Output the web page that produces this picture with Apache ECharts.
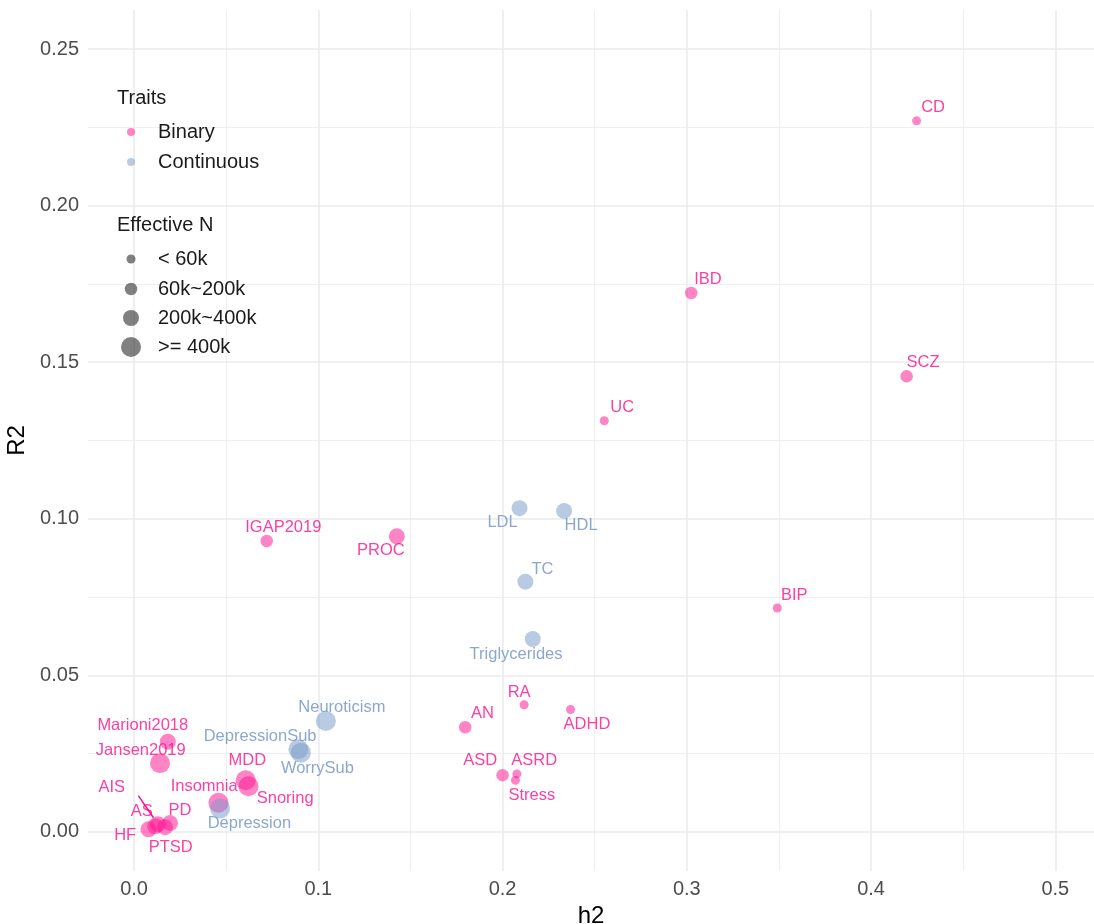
<!DOCTYPE html>
<html>
<head>
    <meta charset="utf-8" />
    <title>h2 vs R2</title>
    <script src="https://cdn.jsdelivr.net/npm/echarts@6/dist/echarts.min.js"></script>
    <style>
        html, body { margin: 0; padding: 0; background: #ffffff; }
    </style>
</head>
<body>
<div id="main" style="width: 1094px;height:924px;"></div>

<script type="text/javascript">
    // binary traits
    var binaryNames = ['CD', 'IBD', 'SCZ', 'UC', 'BIP', 'IGAP2019', 'PROC', 'RA', 'ADHD', 'AN', 'ASD', 'ASRD', 'Stress',
        'Marioni2018', 'Jansen2019', 'MDD', 'Snoring', 'Insomnia', 'AIS', 'AS', 'PD', 'PTSD', 'HF'];
    var binaryH2 = [0.4247, 0.3024, 0.4193, 0.2552, 0.3491, 0.0720, 0.1426, 0.2117, 0.2369, 0.1797, 0.2000, 0.2078, 0.2070,
        0.0183, 0.0141, 0.0606, 0.0621, 0.0458, 0.0130, 0.0114, 0.0195, 0.0168, 0.0078];
    var binaryR2 = [0.2271, 0.1721, 0.1455, 0.1313, 0.0715, 0.0929, 0.0944, 0.0406, 0.0391, 0.0334, 0.0181, 0.0185, 0.0165,
        0.0288, 0.0219, 0.0165, 0.0146, 0.0093, 0.0024, 0.0018, 0.0028, 0.0015, 0.0008];
    var binaryN = [0, 1, 1, 0, 0, 1, 2, 0, 0, 1, 1, 0, 0, 2, 3, 3, 3, 3, 2, 2, 2, 2, 2];

    // continuous traits
    var contNames = ['LDL', 'HDL', 'TC', 'Triglycerides', 'Neuroticism', 'DepressionSub', 'WorrySub', 'Depression'];
    var contH2 = [0.2092, 0.2334, 0.2124, 0.2164, 0.1041, 0.0892, 0.0905, 0.0467];
    var contR2 = [0.1034, 0.1025, 0.0799, 0.0616, 0.0354, 0.0264, 0.0253, 0.0075];
    var contN = [2, 2, 2, 2, 3, 3, 3, 3];

    // effective N groups
    var nGroups = ['< 60k', '60k~200k', '200k~400k', '>= 400k'];

    // axis ticks
    var xTicks = [0, 0.1, 0.2, 0.3, 0.4, 0.5];
    var xMinor = [0.05, 0.15, 0.25, 0.35, 0.45];
    var yTicks = [0, 0.05, 0.1, 0.15, 0.2, 0.25];
    var yMinor = [0.025, 0.075, 0.125, 0.175, 0.225];

    // styling
    var groupSize = [9, 12.5, 16, 20];
    var pink = '#FA0F8C', pinkFill = 'rgba(255,20,147,0.66)';
    var blue = '#6F91C2', blueFill = 'rgba(122,156,200,0.66)';
    var gridCol = '#EBEBEB';
    var font = 'Liberation Sans, Arial, sans-serif';

    // label placement (px from point), like ggrepel put them
    var labelOffset = {
        CD: [16.5, -13.4], IBD: [16.7, -13.3], SCZ: [16.4, -13.4], UC: [18, -13], BIP: [17, -13],
        IGAP2019: [16.6, -13.4], PROC: [-16, 14.3], RA: [-5, -12.4], ADHD: [16.4, 14.7], AN: [17.3, -14],
        ASD: [-22.3, -14.3], ASRD: [17.3, -13.7], Stress: [16.4, 15], Marioni2018: [-25, -16],
        Jansen2019: [-19.3, -12.6], MDD: [1.6, -19.3], Snoring: [36.7, 12.3], Insomnia: [-14.3, -16.7],
        AIS: [-46.3, -37.3], AS: [-13.3, -14.3], PD: [10, -12.3], PTSD: [5.7, 20.7], HF: [-23.3, 6.4],
        LDL: [-17, 14.4], HDL: [17, 15], TC: [17, -12.7], Triglycerides: [-16.7, 15], Neuroticism: [16, -13.7],
        DepressionSub: [-38.3, -13], WorrySub: [16.6, 15.6], Depression: [29.3, 15]
    };

    function buildData(names, h2, r2, grp, col) {
        return names.map(function (nm, i) {
            var item = {
                name: nm,
                value: [h2[i], r2[i]],
                symbolSize: groupSize[grp[i]],
                label: { offset: labelOffset[nm] || [0, 0] }
            };
            if (nm === 'AIS') {
                item.labelLine = { show: true, lineStyle: { color: col, width: 1.5 } };
            }
            return item;
        });
    }

    function traitSeries(name, data, col, fill) {
        return {
            name: name,
            type: 'scatter',
            xAxisIndex: 0,
            yAxisIndex: 0,
            data: data,
            itemStyle: { color: fill },
            label: {
                show: true,
                position: 'inside',
                formatter: '{b}',
                color: col,
                fontSize: 16.5,
                fontFamily: font
            },
            labelLine: { show: false },
            emphasis: { scale: false }
        };
    }

    var myChart = echarts.init(document.getElementById('main'));

    var series = [
        traitSeries('Binary', buildData(binaryNames, binaryH2, binaryR2, binaryN, pink), pink, pinkFill),
        traitSeries('Continuous', buildData(contNames, contH2, contR2, contN, blue), blue, blueFill)
    ];
    // empty series only for the size legend
    nGroups.forEach(function (g) {
        series.push({
            name: g, type: 'scatter', data: [],
            itemStyle: { color: 'rgba(35,35,35,0.72)' }
        });
    });

    // circle centred at x=131, text starting at x=158
    function legendText(d) {
        return { fontSize: 20, color: '#1a1a1a', fontFamily: font, lineHeight: 20,
            padding: [0, 0, 0, 27 - d / 2 - 5] };
    }
    var legends = [{
        orient: 'vertical', left: 131 - 4, top: 122, padding: 0, itemGap: 10,
        itemWidth: 8, itemHeight: 8, icon: 'circle',
        data: ['Binary', 'Continuous'], textStyle: legendText(8), selectedMode: false
    }];
    var sizeTops = [249, 279, 308, 337];
    nGroups.forEach(function (g, i) {
        var d = groupSize[i];
        legends.push({
            orient: 'vertical', left: 131 - d / 2, top: sizeTops[i], padding: 0,
            itemWidth: d, itemHeight: d, icon: 'circle',
            data: [g], textStyle: legendText(d), selectedMode: false
        });
    });

    var option = {
        backgroundColor: '#ffffff',
        animation: false,
        textStyle: { fontFamily: font },
        title: [
            { text: 'Traits', left: 117, top: 88, padding: 0,
                textStyle: { fontSize: 20, fontWeight: 'normal', color: '#1a1a1a', fontFamily: font, lineHeight: 20 } },
            { text: 'Effective N', left: 117, top: 215, padding: 0,
                textStyle: { fontSize: 20, fontWeight: 'normal', color: '#1a1a1a', fontFamily: font, lineHeight: 20 } }
        ],
        legend: legends,
        grid: { left: 88, right: 0, top: 10, bottom: 53, outerBoundsMode: 'none', containLabel: false },
        xAxis: [{
            type: 'value', min: -0.025, max: 0.521,
            name: 'h2', nameLocation: 'middle', nameGap: 30,
            nameTextStyle: { fontSize: 24, color: '#000000', fontFamily: font },
            axisLine: { show: false },
            axisTick: { show: false, customValues: xTicks },
            axisLabel: { customValues: xTicks, fontSize: 20, color: '#4D4D4D', margin: 8,
                formatter: function (v) { return v.toFixed(1); } },
            splitLine: { show: true, lineStyle: { color: gridCol, width: 1.6 } }
        }, {
            type: 'value', min: -0.025, max: 0.521, position: 'bottom',
            axisLine: { show: false },
            axisTick: { show: false, customValues: xMinor },
            axisLabel: { show: false },
            splitLine: { show: true, lineStyle: { color: gridCol, width: 0.8 } }
        }],
        yAxis: [{
            type: 'value', min: -0.0125, max: 0.2625,
            name: 'R2', nameLocation: 'middle', nameGap: 56, nameRotate: 90,
            nameTextStyle: { fontSize: 24, color: '#000000', fontFamily: font },
            axisLine: { show: false },
            axisTick: { show: false, customValues: yTicks },
            axisLabel: { customValues: yTicks, fontSize: 20, color: '#4D4D4D', margin: 9,
                formatter: function (v) { return v.toFixed(2); } },
            splitLine: { show: true, lineStyle: { color: gridCol, width: 1.6 } }
        }, {
            type: 'value', min: -0.0125, max: 0.2625, position: 'left',
            axisLine: { show: false },
            axisTick: { show: false, customValues: yMinor },
            axisLabel: { show: false },
            splitLine: { show: true, lineStyle: { color: gridCol, width: 0.8 } }
        }],
        series: series
    };
    myChart.setOption(option);
</script>
</body>
</html>
